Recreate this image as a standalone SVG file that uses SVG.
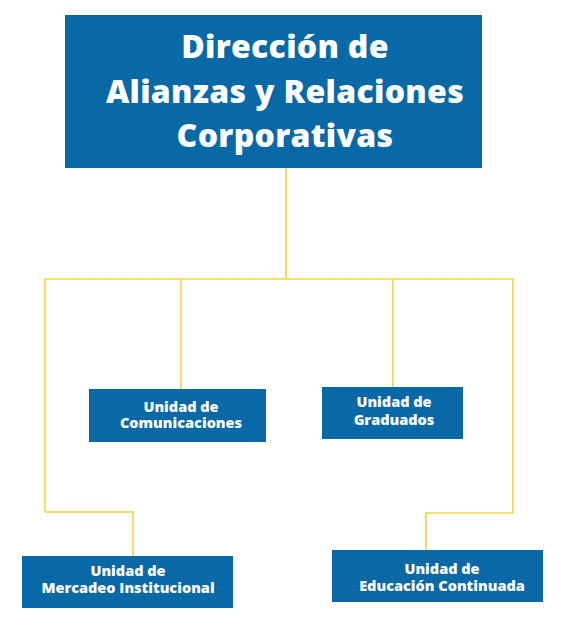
<svg xmlns="http://www.w3.org/2000/svg" width="569" height="632" viewBox="0 0 569 632">
<style>
.box{fill:#0869A6;}
.t{font-family:"Open Sans","Noto Sans","Liberation Sans",sans-serif;font-weight:800;fill:#ffffff;text-anchor:middle;}
.big{font-size:32px;letter-spacing:0.3px;}
.sm{font-size:14.5px;}
.ln{fill:none;stroke:#F4D33E;stroke-width:1.6;}
</style>
<rect width="569" height="632" fill="#ffffff"/>
<g id="connectors">
<polyline class="ln" points="286,168 286,279"/>
<polyline class="ln" points="45,512 45,279 513,279 513,513"/>
<polyline class="ln" points="45,512 133,512 133,556"/>
<polyline class="ln" points="181,279 181,389"/>
<polyline class="ln" points="393,279 393,387"/>
<polyline class="ln" points="513,513 426,513 426,550"/>
</g>
<g id="direccion">
<rect class="box" x="65" y="15" width="417" height="153"/>
<text class="t big" x="285" y="58">Dirección de</text>
<text class="t big" x="285" y="103">Alianzas y Relaciones</text>
<text class="t big" x="285" y="147">Corporativas</text>
</g>
<g id="comunicaciones">
<rect class="box" x="89" y="389" width="177" height="53"/>
<text class="t sm" x="181" y="412">Unidad de</text>
<text class="t sm" x="181" y="428">Comunicaciones</text>
</g>
<g id="graduados">
<rect class="box" x="322" y="387" width="141" height="52"/>
<text class="t sm" x="394" y="407">Unidad de</text>
<text class="t sm" x="394" y="425">Graduados</text>
</g>
<g id="mercadeo">
<rect class="box" x="22" y="556" width="211" height="52"/>
<text class="t sm" x="128" y="576">Unidad de</text>
<text class="t sm" x="128" y="593">Mercadeo Institucional</text>
</g>
<g id="educacion">
<rect class="box" x="332" y="550" width="211" height="52"/>
<text class="t sm" x="442" y="574">Unidad de</text>
<text class="t sm" x="442" y="591">Educación Continuada</text>
</g>
</svg>
